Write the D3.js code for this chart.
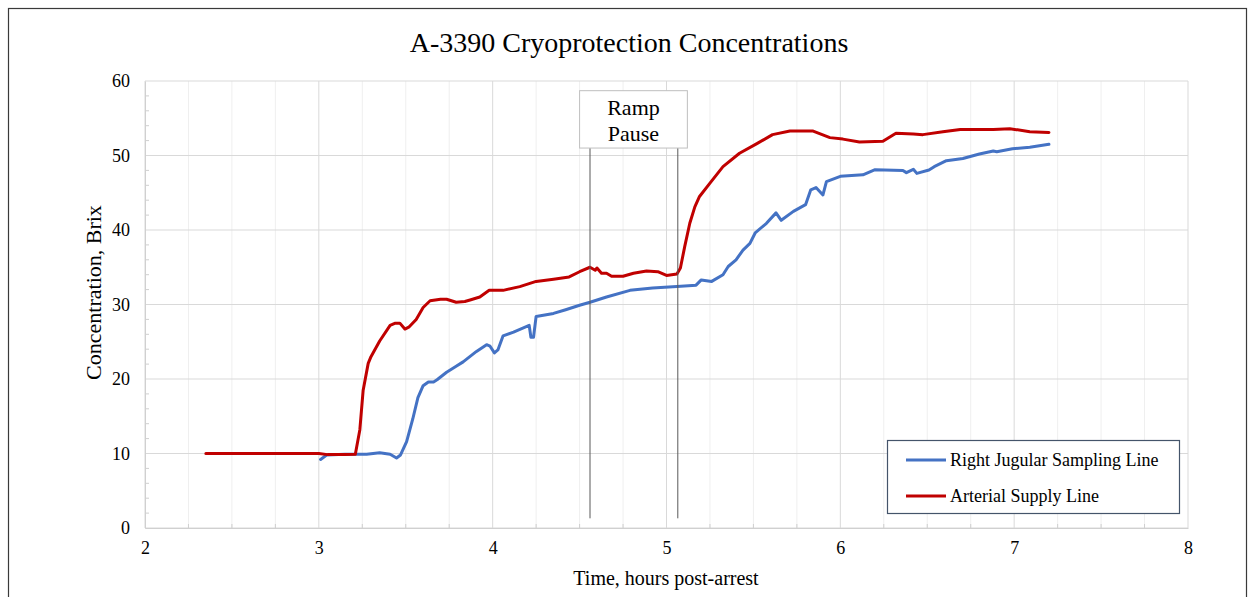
<!DOCTYPE html>
<html lang="en">
  <head>
    <meta charset="UTF-8" />
    <script src="https://d3js.org/d3.v7.min.js"></script>
    <title>A-3390 Cryoprotection Concentrations</title>
    <style>
      body { margin: 0; background: #fff; }
      text { font-family: "Liberation Serif", "Times New Roman", serif; fill: #000; }
      .grid-minor { stroke: #efefef; stroke-width: 1; }
      .grid-major { stroke: #d9d9d9; stroke-width: 1; }
      .tick-label { font-size: 18px; }
    </style>
  </head>
  <body>
    <svg id="chart" width="1249" height="597"></svg>
    <script>
      // Arterial supply line (hours, Brix)
      const arterialTime = [2.35, 2.5, 2.7, 2.9, 3.0, 3.05, 3.15, 3.21, 3.236, 3.255, 3.284, 3.30, 3.35, 3.41, 3.44, 3.466, 3.495, 3.52, 3.56, 3.60, 3.64, 3.70, 3.735, 3.79, 3.84, 3.87, 3.926, 3.98, 4.06, 4.156, 4.25, 4.35, 4.44, 4.50, 4.56, 4.59, 4.60, 4.626, 4.655, 4.684, 4.75, 4.81, 4.885, 4.95, 5.0, 5.06, 5.08, 5.105, 5.134, 5.163, 5.19, 5.25, 5.325, 5.42, 5.52, 5.61, 5.71, 5.84, 5.94, 6.015, 6.11, 6.245, 6.32, 6.42, 6.475, 6.59, 6.69, 6.88, 6.975, 7.09, 7.2];
      const arterialBrix = [10.0, 10.0, 10.0, 10.0, 10.0, 9.85, 9.85, 9.9, 13.2, 18.5, 22.1, 23.0, 25.1, 27.2, 27.5, 27.5, 26.7, 27.0, 28.0, 29.6, 30.5, 30.7, 30.7, 30.3, 30.4, 30.6, 31.0, 31.9, 31.9, 32.4, 33.1, 33.4, 33.7, 34.4, 35.0, 34.6, 34.9, 34.2, 34.2, 33.8, 33.8, 34.2, 34.5, 34.4, 33.9, 34.1, 34.9, 37.8, 40.9, 43.1, 44.5, 46.3, 48.5, 50.3, 51.6, 52.8, 53.3, 53.3, 52.4, 52.2, 51.8, 51.9, 53.0, 52.9, 52.8, 53.2, 53.5, 53.5, 53.6, 53.2, 53.1];

      // Right jugular sampling line (hours, Brix)
      const jugularTime = [3.01, 3.045, 3.15, 3.275, 3.35, 3.41, 3.447, 3.47, 3.505, 3.54, 3.57, 3.60, 3.63, 3.66, 3.68, 3.735, 3.79, 3.83, 3.907, 3.965, 3.985, 4.01, 4.03, 4.06, 4.12, 4.21, 4.22, 4.235, 4.25, 4.35, 4.42, 4.50, 4.56, 4.655, 4.79, 4.92, 5.06, 5.17, 5.20, 5.26, 5.325, 5.355, 5.40, 5.44, 5.48, 5.51, 5.575, 5.63, 5.66, 5.73, 5.80, 5.83, 5.86, 5.90, 5.92, 6.0, 6.13, 6.20, 6.36, 6.38, 6.42, 6.44, 6.51, 6.54, 6.61, 6.705, 6.80, 6.88, 6.90, 6.99, 7.09, 7.2];
      const jugularBrix = [9.2, 9.8, 9.9, 9.9, 10.1, 9.9, 9.4, 9.8, 11.6, 14.6, 17.5, 19.1, 19.6, 19.6, 19.9, 20.9, 21.7, 22.3, 23.7, 24.6, 24.4, 23.5, 23.9, 25.8, 26.3, 27.2, 25.6, 25.6, 28.4, 28.8, 29.3, 29.9, 30.3, 31.0, 31.9, 32.2, 32.4, 32.6, 33.3, 33.1, 34.0, 35.1, 36.0, 37.3, 38.2, 39.6, 40.9, 42.3, 41.3, 42.5, 43.4, 45.4, 45.7, 44.7, 46.5, 47.2, 47.4, 48.1, 48.0, 47.7, 48.15, 47.6, 48.05, 48.5, 49.3, 49.6, 50.2, 50.6, 50.5, 50.9, 51.1, 51.5];

      const xTicks = [2, 3, 4, 5, 6, 7, 8];
      const yTicks = [0, 10, 20, 30, 40, 50, 60];
      const rampPause = [4.56, 5.065];

      const svg = d3.select("#chart");

      // outer frame
      svg.append("rect")
        .attr("x", 8.5).attr("y", 8.5)
        .attr("width", 1238).attr("height", 600)
        .attr("fill", "none").attr("stroke", "#3a3a3a").attr("stroke-width", 1.2);

      const x = d3.scaleLinear().domain([2, 8]).range([145, 1188]);
      const y = d3.scaleLinear().domain([0, 60]).range([528, 81]);

      // gridlines
      const minorX = d3.range(2, 8.001, 0.25).filter((v) => Math.abs(v - Math.round(v)) > 0.01);
      svg.append("g").selectAll("line").data(minorX).join("line")
        .attr("class", "grid-minor")
        .attr("x1", (d) => x(d)).attr("x2", (d) => x(d))
        .attr("y1", y(60)).attr("y2", y(0));
      svg.append("g").selectAll("line").data(xTicks).join("line")
        .attr("class", "grid-major")
        .attr("x1", (d) => x(d)).attr("x2", (d) => x(d))
        .attr("y1", y(60)).attr("y2", y(0));
      svg.append("g").selectAll("line").data(yTicks).join("line")
        .attr("class", "grid-major")
        .attr("x1", x(2)).attr("x2", x(8))
        .attr("y1", (d) => y(d)).attr("y2", (d) => y(d));

      // minor ticks
      svg.append("g").selectAll("line").data(d3.range(2, 60, 2).filter((v) => v % 10 !== 0)).join("line")
        .attr("stroke", "#cfcfcf")
        .attr("x1", x(2)).attr("x2", x(2) + 4)
        .attr("y1", (d) => y(d)).attr("y2", (d) => y(d));
      svg.append("g").selectAll("line").data(minorX).join("line")
        .attr("stroke", "#cfcfcf")
        .attr("x1", (d) => x(d)).attr("x2", (d) => x(d))
        .attr("y1", y(0)).attr("y2", y(0) - 4);

      // axes
      const xAxis = svg.append("g")
        .attr("transform", `translate(0,${y(0)})`)
        .call(d3.axisBottom(x).tickValues(xTicks).tickSize(0).tickPadding(13).tickFormat(d3.format("d")));
      xAxis.select(".domain").attr("stroke", "#d0d0d0");
      xAxis.selectAll("text").attr("class", "tick-label").attr("dy", "0.71em");

      const yAxis = svg.append("g")
        .attr("transform", `translate(${x(2)},0)`)
        .call(d3.axisLeft(y).tickValues(yTicks).tickSize(0).tickPadding(15).tickFormat(d3.format("d")));
      yAxis.select(".domain").attr("stroke", "#d0d0d0");
      yAxis.selectAll("text").attr("class", "tick-label");

      // series
      const line = d3.line().x((d) => x(d[0])).y((d) => y(d[1]));
      const series = [
        { name: "Right Jugular Sampling Line", color: "#4472c4", pts: d3.zip(jugularTime, jugularBrix) },
        { name: "Arterial Supply Line", color: "#c00000", pts: d3.zip(arterialTime, arterialBrix) },
      ];
      svg.append("g").selectAll("path").data(series).join("path")
        .attr("fill", "none")
        .attr("stroke", (d) => d.color)
        .attr("stroke-width", 3)
        .attr("stroke-linejoin", "round")
        .attr("stroke-linecap", "round")
        .attr("d", (d) => line(d.pts));

      // ramp pause markers
      svg.append("g").selectAll("line").data(rampPause).join("line")
        .attr("stroke", "#595959").attr("stroke-width", 1)
        .attr("x1", (d) => x(d)).attr("x2", (d) => x(d))
        .attr("y1", y(51)).attr("y2", y(1.3));
      svg.append("rect")
        .attr("x", x(4.5)).attr("y", y(58.7))
        .attr("width", x(5.12) - x(4.5)).attr("height", y(51) - y(58.7))
        .attr("fill", "#fff").attr("stroke", "#bfbfbf");
      svg.append("text").attr("x", (x(4.5) + x(5.12)) / 2).attr("y", 115)
        .attr("text-anchor", "middle").style("font-size", "22px").text("Ramp");
      svg.append("text").attr("x", (x(4.5) + x(5.12)) / 2).attr("y", 141)
        .attr("text-anchor", "middle").style("font-size", "22px").text("Pause");

      // title
      svg.append("text").attr("x", 629).attr("y", 52)
        .attr("text-anchor", "middle").style("font-size", "28px")
        .text("A-3390 Cryoprotection Concentrations");

      // axis titles
      svg.append("text").attr("x", 666).attr("y", 585)
        .attr("text-anchor", "middle").style("font-size", "20px")
        .text("Time, hours post-arrest");
      svg.append("text")
        .attr("transform", `translate(101,${y(30) - 12}) rotate(-90)`)
        .attr("text-anchor", "middle").style("font-size", "22px")
        .text("Concentration, Brix");

      // legend
      const legend = svg.append("g");
      legend.append("rect")
        .attr("x", 887.5).attr("y", 440.5).attr("width", 292).attr("height", 73)
        .attr("fill", "#fff").attr("stroke", "#44546a").attr("stroke-width", 1.2);
      const rows = legend.selectAll("g").data(series).join("g")
        .attr("transform", (d, i) => `translate(906,${460 + i * 36})`);
      rows.append("line").attr("x1", 0).attr("x2", 40)
        .attr("stroke", (d) => d.color).attr("stroke-width", 3);
      rows.append("text").attr("x", 44).attr("dy", "0.35em")
        .style("font-size", "18px").text((d) => d.name);
    </script>
  </body>
</html>
